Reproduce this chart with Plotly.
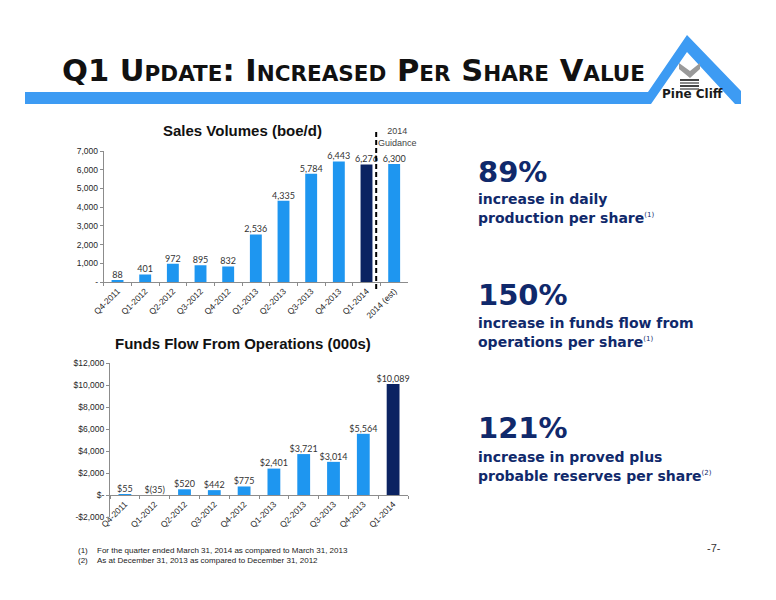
import plotly.graph_objects as go

# Sales volumes (boe/d) by quarter
sales_quarters = ["Q4-2011", "Q1-2012", "Q2-2012", "Q3-2012", "Q4-2012", "Q1-2013",
                  "Q2-2013", "Q3-2013", "Q4-2013", "Q1-2014", "2014 (est)"]
sales_volumes = [88, 401, 972, 895, 832, 2536, 4335, 5784, 6443, 6276, 6300]
sales_labels = ["88", "401", "972", "895", "832", "2,536", "4,335", "5,784", "6,443", "6,276", "6,300"]

# Funds flow from operations (000s)
funds_quarters = ["Q4-2011", "Q1-2012", "Q2-2012", "Q3-2012", "Q4-2012", "Q1-2013",
                  "Q2-2013", "Q3-2013", "Q4-2013", "Q1-2014"]
funds_flow = [55, -35, 520, 442, 775, 2401, 3721, 3014, 5564, 10089]
funds_labels = ["$55", "$(35)", "$520", "$442", "$775", "$2,401", "$3,721", "$3,014", "$5,564", "$10,089"]

sales_ticks = [0, 1000, 2000, 3000, 4000, 5000, 6000, 7000]
sales_ticktext = ["-", "1,000", "2,000", "3,000", "4,000", "5,000", "6,000", "7,000"]
funds_ticks = [-2000, 0, 2000, 4000, 6000, 8000, 10000, 12000]
funds_ticktext = ["-$2,000", "$-", "$2,000", "$4,000", "$6,000", "$8,000", "$10,000", "$12,000"]

W, H = 776, 600
OFF = 8  # the page body adds an 8px margin, so work in screen pixels and shift back
LIGHT = "#1E96F0"
NAVY = "#0B2362"
TEXT_NAVY = "#10296B"
AXIS = "#8c8c8c"


def px(x):
    return (x - OFF) / W


def py(y):
    return 1 - (y - OFF) / H


def bar_colors(cats):
    return [NAVY if c == "Q1-2014" else LIGHT for c in cats]


fig = go.Figure()

fig.add_trace(go.Bar(x=sales_quarters, y=sales_volumes, marker_color=bar_colors(sales_quarters),
                     xaxis="x", yaxis="y", hoverinfo="skip"))
fig.add_trace(go.Scatter(x=sales_quarters, y=sales_volumes, text=sales_labels, mode="text",
                         textposition="top center", cliponaxis=False,
                         textfont=dict(family="Lato", size=9, color="#333333"),
                         xaxis="x", yaxis="y", hoverinfo="skip"))

fig.add_trace(go.Bar(x=funds_quarters, y=funds_flow, marker_color=bar_colors(funds_quarters),
                     xaxis="x2", yaxis="y2", hoverinfo="skip"))
fig.add_trace(go.Scatter(x=funds_quarters, y=[max(v, 0) for v in funds_flow], text=funds_labels,
                         mode="text", textposition="top center", cliponaxis=False,
                         textfont=dict(family="Lato", size=9, color="#333333"),
                         xaxis="x2", yaxis="y2", hoverinfo="skip"))

tick_font = dict(family="Liberation Sans", size=8.5, color="#262626")
axis_common = dict(showline=True, linecolor=AXIS, linewidth=1, ticks="outside", ticklen=3,
                   tickcolor=AXIS, showgrid=False, zeroline=False, tickfont=tick_font,
                   fixedrange=True, automargin=False)

# bottom chart geometry: -2000 at y=517, 12000 at y=363
f_d0, f_d1 = py(517), py(363)
f_zero = f_d0 + (0 - funds_ticks[0]) / (funds_ticks[-1] - funds_ticks[0]) * (f_d1 - f_d0)

fig.update_layout(
    template="none",
    width=W, height=H,
    margin=dict(l=0, r=0, t=0, b=0, pad=0, autoexpand=False),
    paper_bgcolor="white", plot_bgcolor="white",
    showlegend=False, bargap=0.57,
    xaxis=dict(axis_common, domain=[px(103.7), px(408)], anchor="y", type="category",
               tickson="boundaries", tickangle=-45, range=[-0.5, 10.5]),
    yaxis=dict(axis_common, domain=[py(282), py(151)], anchor="x", range=[0, 7000],
               tickvals=sales_ticks, ticktext=sales_ticktext),
    xaxis2=dict(axis_common, domain=[px(110), px(408)], anchor="free", position=f_zero,
                type="category", tickson="boundaries", tickangle=-45, range=[-0.5, 9.5]),
    yaxis2=dict(axis_common, domain=[f_d0, f_d1], anchor="x2", range=[-2000, 12000],
                tickvals=funds_ticks, ticktext=funds_ticktext),
)

shapes = []
# roof / band header graphic
band = [(25, 92), (648, 92), (687, 35), (741, 91), (741, 104), (735, 104),
        (687, 52), (651, 104), (25, 104)]
path = "M " + " L ".join(f"{px(x):.5f},{py(y):.5f}" for x, y in band) + " Z"
shapes.append(dict(type="path", xref="paper", yref="paper", path=path,
                   fillcolor="#3D9BF3", line=dict(width=0), layer="below"))
# logo chevron
chev = [(679, 63), (690, 71), (700, 63), (700, 69), (690, 78), (679, 69)]
path = "M " + " L ".join(f"{px(x):.5f},{py(y):.5f}" for x, y in chev) + " Z"
shapes.append(dict(type="path", xref="paper", yref="paper", path=path,
                   fillcolor="#9a9a9a", line=dict(width=0)))
for i, yy in enumerate([79, 82, 85, 88]):
    shapes.append(dict(type="rect", xref="paper", yref="paper",
                       x0=px(680), x1=px(699), y0=py(yy + 2), y1=py(yy),
                       fillcolor="#444444" if i % 2 == 0 else "#8a8a8a", line=dict(width=0)))
# guidance divider
shapes.append(dict(type="line", xref="x", yref="paper", x0=9.35, x1=9.35, y0=py(289), y1=py(130),
                   line=dict(color="black", width=2, dash="5px,3px")))
fig.update_layout(shapes=shapes)

ann = []


def note(x, y, text, size, color, family="DejaVu Sans", xanchor="left", yanchor="middle", align="left"):
    ann.append(dict(x=px(x), y=py(y), xref="paper", yref="paper", text=text, showarrow=False,
                    xanchor=xanchor, yanchor=yanchor, align=align, borderpad=0,
                    font=dict(family=family, size=size, color=color)))


def sc(s):
    return f"<span style='font-size:21.5px'>{s}</span>"


title = "Q1 U" + sc("PDATE") + ": I" + sc("NCREASED") + " P" + sc("ER") + " S" + sc("HARE") + " V" + sc("ALUE")
note(61, 71, "<b>" + title + "</b>", 30.5, "#111111", family="DejaVu Sans")
note(692, 94, "<b>Pine Cliff</b>", 12, "#1a1a1a", xanchor="center")

note(242, 130, "<b>Sales Volumes (boe/d)</b>", 15, "#111111", family="Liberation Sans", xanchor="center")
note(243, 343, "<b>Funds Flow From Operations (000s)</b>", 15, "#111111", family="Liberation Sans",
     xanchor="center")
note(397, 137, "2014<br>Guidance", 9, "#444444", family="Liberation Sans", xanchor="center", align="center")

sup1 = "<sup><span style='font-size:7px'>(1)</span></sup>"
sup2 = "<sup><span style='font-size:7px'>(2)</span></sup>"
lines = [
    (172, "<b>89%</b>", 29),
    (199, "<b>increase in daily</b>", 14),
    (218, "<b>production per share</b>" + sup1, 14),
    (295, "<b>150%</b>", 29),
    (323, "<b>increase in funds flow from</b>", 14),
    (342, "<b>operations per share</b>" + sup1, 14),
    (428, "<b>121%</b>", 29),
    (457, "<b>increase in proved plus</b>", 14),
    (476, "<b>probable reserves per share</b>" + sup2, 14),
]
for y, t, s in lines:
    note(477, y, t, s, TEXT_NAVY)

note(77, 550, "(1)", 8, "#222222", family="Liberation Sans")
note(96, 550, "For the quarter ended March 31, 2014 as compared to March 31, 2013", 8, "#222222",
     family="Liberation Sans")
note(77, 560, "(2)", 8, "#222222", family="Liberation Sans")
note(96, 560, "As at December 31, 2013 as compared to December 31, 2012", 8, "#222222",
     family="Liberation Sans")
note(714, 548, "-7-", 11, "#333333", family="Liberation Sans", xanchor="center")

fig.update_layout(annotations=ann)
fig.write_html("out.html")
